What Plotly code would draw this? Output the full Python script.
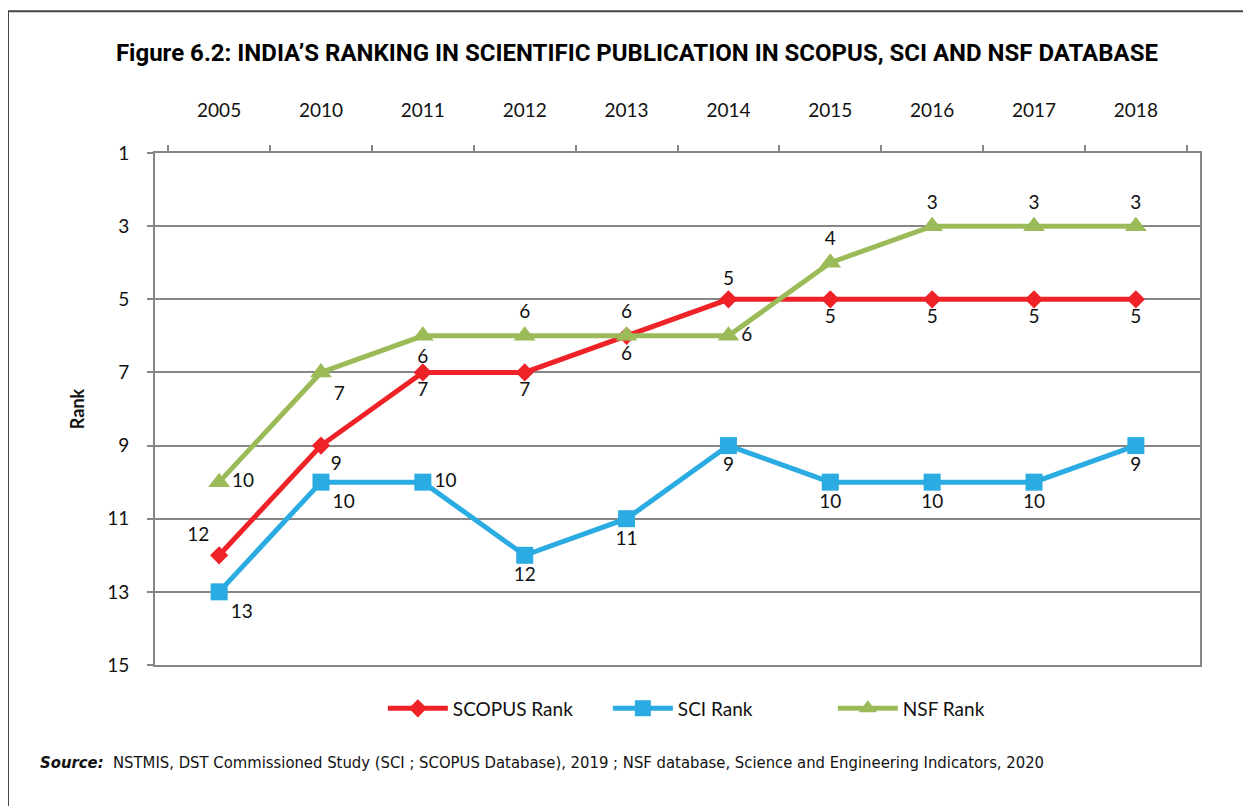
import plotly.graph_objects as go

years = ["2005", "2010", "2011", "2012", "2013", "2014", "2015", "2016", "2017", "2018"]
scopus_rank = [12, 9, 7, 7, 6, 5, 5, 5, 5, 5]
sci_rank = [13, 10, 10, 12, 11, 9, 10, 10, 10, 9]
nsf_rank = [10, 7, 6, 6, 6, 6, 4, 3, 3, 3]
y_ticks = [1, 3, 5, 7, 9, 11, 13, 15]

scopus_pos = ["top left", "bottom right", "bottom center", "bottom center", "bottom center",
              "top center", "bottom center", "bottom center", "bottom center", "bottom center"]
sci_pos = ["bottom right", "bottom right", "middle right", "bottom center", "bottom center",
           "bottom center", "bottom center", "bottom center", "bottom center", "bottom center"]
nsf_pos = ["middle right", "bottom right", "bottom center", "top center", "top center",
           "middle right", "top center", "top center", "top center", "top center"]

FONT = "Lato, 'Open Sans', sans-serif"
lbl_font = dict(family=FONT, size=19, color="#111111")

fig = go.Figure()
fig.add_trace(go.Scatter(
    x=years, y=scopus_rank, name="SCOPUS Rank", mode="lines+markers+text",
    line=dict(color="#EE2227", width=5),
    marker=dict(symbol="diamond", size=14, color="#EE2227"),
    text=[str(v) for v in scopus_rank], textposition=scopus_pos, textfont=lbl_font,
    cliponaxis=False))
fig.add_trace(go.Scatter(
    x=years, y=sci_rank, name="SCI Rank", mode="lines+markers+text",
    line=dict(color="#2AABE2", width=5),
    marker=dict(symbol="square", size=17, color="#2AABE2"),
    text=[str(v) for v in sci_rank], textposition=sci_pos, textfont=lbl_font,
    cliponaxis=False))
fig.add_trace(go.Scatter(
    x=years, y=nsf_rank, name="NSF Rank", mode="lines+markers+text",
    line=dict(color="#9BBB59", width=5),
    marker=dict(symbol="triangle-up", size=19, color="#9BBB59"),
    text=[str(v) for v in nsf_rank], textposition=nsf_pos, textfont=lbl_font,
    cliponaxis=False))

fig.update_layout(
    width=1243, height=798,
    margin=dict(l=147, r=51, t=145, b=141, autoexpand=False),
    paper_bgcolor="white", plot_bgcolor="white",
    font=dict(family=FONT, size=19, color="#111111"),
    title=dict(
        text="<b>Figure 6.2: INDIA’S RANKING IN SCIENTIFIC PUBLICATION IN SCOPUS, SCI AND NSF DATABASE</b>",
        x=0.506, xref="container", xanchor="center", yref="container", y=0.9436, yanchor="middle",
        font=dict(family="Roboto, sans-serif", size=24, color="#000000")),
    showlegend=True,
    legend=dict(orientation="h", x=0.541, xanchor="center", y=-0.085, yanchor="middle",
                font=dict(family=FONT, size=19), itemwidth=60, tracegroupgap=0,
                entrywidthmode="pixels", entrywidth=150),
    xaxis=dict(type="category", side="top", tickson="boundaries", automargin=False,
               ticks="outside", ticklen=6, tickcolor="#868686", tickwidth=2,
               showline=True, linecolor="#868686", linewidth=2, mirror=True,
               showgrid=False, tickfont=dict(family=FONT, size=19), ticklabelstandoff=26),
    yaxis=dict(range=[15, 1], tickvals=y_ticks, ticks="outside", ticklen=6, automargin=False,
               tickcolor="#868686", tickwidth=2,
               showline=True, linecolor="#868686", linewidth=2, mirror=True,
               showgrid=True, gridcolor="#868686", gridwidth=2, zeroline=False,
               tickfont=dict(family=FONT, size=19), ticklabelstandoff=14,
               title=dict(text="<b>Rank</b>", font=dict(family=FONT, size=18), standoff=18)),
)

fig.add_annotation(
    xref="paper", yref="paper", x=-0.112, y=-0.19, xanchor="left", yanchor="middle",
    showarrow=False,
    text="<b><i>Source:</i></b>  NSTMIS, DST Commissioned Study (SCI ; SCOPUS Database), 2019 ; NSF database, Science and Engineering Indicators, 2020",
    font=dict(family="'Liberation Sans Narrow', 'DejaVu Sans Condensed', sans-serif", size=16.5, color="#111111"))

fig.add_shape(type="rect", xref="paper", yref="paper",
              x0=-0.1407, y0=-0.35, x1=1.1, y1=1.277,
              line=dict(color="#444444", width=2), fillcolor="rgba(0,0,0,0)", layer="below")

fig.write_html("out.html")
